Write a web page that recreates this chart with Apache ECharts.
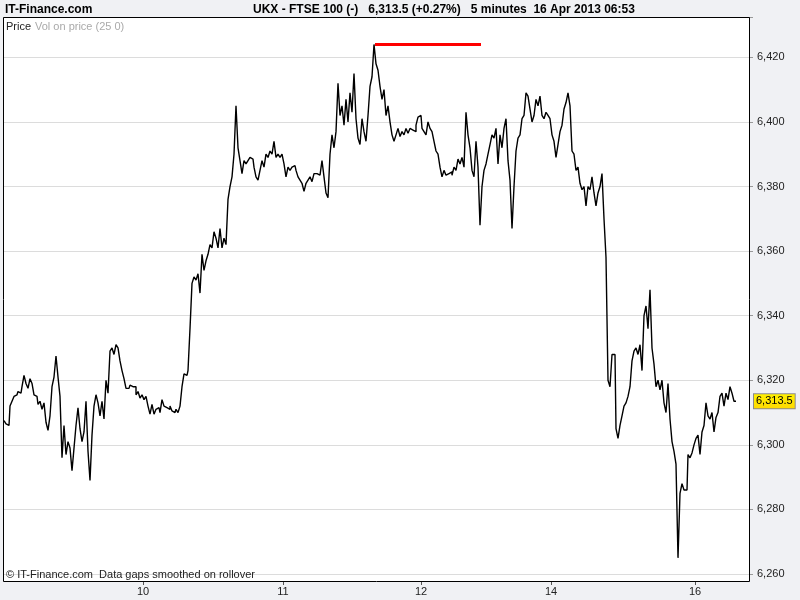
<!DOCTYPE html>
<html>
<head>
<meta charset="utf-8">
<title>UKX - FTSE 100</title>
<script src="https://cdn.jsdelivr.net/npm/echarts@6/dist/echarts.min.js"></script>
<style>
  html, body { margin: 0; padding: 0; background: #f0f1f4; }
  #chart { width: 800px; height: 600px; }
</style>
</head>
<body>
<div id="chart"></div>
<script>
// UKX 5-minute prices (one value per ~2px)
const price = [
  6307.5, 6306.5, 6306, 6312, 6313.5, 6315, 6315.5, 6316.5, 6316, 6318,
  6321.5, 6319, 6317.5, 6320.5, 6319, 6315.5, 6315, 6312.5, 6313.5, 6311,
  6313, 6307, 6304.5, 6309, 6318, 6321, 6327.5, 6321, 6315, 6296,
  6306, 6297, 6301, 6299, 6292, 6299, 6306, 6311.5, 6305, 6301,
  6304, 6313.5, 6298, 6289, 6303, 6312, 6315.5, 6313, 6309, 6313.5,
  6308, 6320, 6316, 6329, 6330, 6328, 6331, 6330, 6326, 6323,
  6320.5, 6317.5, 6317.5,
  6318.5, 6318, 6318, 6315.5, 6316.5, 6314.5, 6315.5, 6314, 6315, 6312,
  6309.5, 6312.5, 6309.5, 6311, 6311.5, 6310, 6314, 6312, 6311.5, 6311,
  6312, 6310.5, 6310, 6311, 6310, 6312, 6318, 6322, 6321.5, 6323,
  6336, 6350, 6352, 6351, 6353, 6347, 6359, 6354, 6357, 6359,
  6362, 6361, 6366, 6364, 6361, 6367, 6361, 6364, 6362, 6376,
  6380, 6383, 6390, 6405, 6392, 6388, 6384, 6388, 6387, 6388,
  6389, 6388.5,
  6386, 6383, 6382, 6385, 6388, 6386, 6390, 6389, 6391, 6390,
  6394, 6389, 6390, 6389, 6390, 6387, 6383, 6386, 6385, 6386,
  6386.5, 6385, 6383, 6382, 6381, 6378.5, 6381, 6382, 6383, 6381.5,
  6384, 6384, 6383.5, 6384, 6388, 6383, 6378, 6376.5, 6390, 6396,
  6392, 6397, 6412, 6402, 6405, 6399, 6407, 6400, 6409, 6403,
  6415, 6401, 6395, 6393, 6401, 6397, 6394, 6402, 6411, 6414,
  6424, 6418, 6416,
  6411, 6407, 6410, 6402, 6405, 6400, 6396, 6394, 6396, 6398,
  6395.5, 6397, 6396, 6398, 6396.5, 6398, 6397.5, 6397, 6399, 6401.5,
  6402, 6398, 6397, 6396, 6400, 6398, 6397, 6394, 6391, 6390,
  6386, 6383, 6385, 6383.5, 6384, 6384.5, 6383.5, 6386, 6385, 6388.5,
  6387, 6389, 6386, 6403, 6396, 6392, 6385, 6383, 6394, 6386,
  6368, 6380, 6385, 6387, 6390, 6393, 6396, 6395, 6398, 6387,
  6396, 6392, 6398, 6401, 6388, 6382, 6367, 6380, 6391, 6395,
  6396, 6401, 6402, 6409, 6408, 6404, 6400, 6402, 6407, 6405,
  6408, 6402, 6401, 6403, 6402, 6401, 6396, 6394, 6389, 6393,
  6397, 6399, 6404, 6406, 6409, 6405, 6391, 6390, 6385, 6386,
  6381, 6379, 6380, 6374, 6380, 6379, 6383, 6378, 6374, 6378,
  6380, 6384, 6370, 6358, 6320, 6318, 6328, 6328, 6305, 6302,
  6306, 6309, 6312, 6313, 6315, 6318, 6326, 6329, 6330, 6328,
  6331, 6323, 6340, 6343, 6336, 6348, 6330, 6325, 6318, 6320,
  6317, 6320, 6313, 6310, 6319, 6308, 6301, 6298, 6294, 6265,
  6285, 6288, 6286, 6286, 6297, 6296, 6297.5, 6300, 6302, 6303,
  6297, 6304, 6306, 6313, 6309, 6308, 6310, 6304, 6308.5, 6310,
  6315, 6316, 6312, 6316, 6314, 6318, 6316, 6313.5
];

// day labels on the x axis and the price index where each one falls
const dayLabels = ['10', '11', '12', '14', '16'];
const dayStart = [69, 139, 208, 273, 345];

const lastPrice = 6313.5;
const highMarkBars = 53; // length of the red session-high marker

const leadSlots = 1;
const trailSlots = 7;

const FONT = '"Liberation Sans", Arial, sans-serif';

function fmt(v, dec) {
  const s = v.toFixed(dec || 0);
  const parts = s.split('.');
  parts[0] = parts[0].replace(/\B(?=(\d{3})+(?!\d))/g, ',');
  return parts.join('.');
}

const total = leadSlots + price.length + trailSlots;
const categories = new Array(total).fill('');
dayStart.forEach((p, i) => { categories[p + leadSlots] = dayLabels[i]; });

const seriesData = new Array(total).fill(null);
price.forEach((v, i) => { seriesData[i + leadSlots] = v; });

let hiIdx = 0;
price.forEach((v, i) => { if (v > price[hiIdx]) hiIdx = i; });
const hiVal = price[hiIdx];
hiIdx += leadSlots;

const showDay = (i) => categories[i] !== '';

const chart = echarts.init(document.getElementById('chart'));
chart.setOption({
  animation: false,
  backgroundColor: '#f0f1f4',
  textStyle: { fontFamily: FONT },
  grid: { left: 3, right: 51, top: 17, bottom: 26 },
  xAxis: {
    type: 'category',
    data: categories,
    boundaryGap: false,
    offset: 7,
    axisLine: { show: false },
    axisTick: { show: true, interval: showDay, length: 4, lineStyle: { color: '#555' } },
    axisLabel: { interval: showDay, color: '#222', fontSize: 11, margin: 5, fontFamily: FONT },
    splitLine: { show: false }
  },
  yAxis: {
    type: 'value',
    position: 'right',
    min: 6260,
    max: 6432.5,
    interval: 20,
    axisLine: { show: false },
    axisTick: { show: true, length: 4, lineStyle: { color: '#999' } },
    axisLabel: {
      margin: 8,
      color: '#222',
      fontSize: 11,
      fontFamily: FONT,
      formatter: (v) => (v % 20 === 0 ? fmt(v) : '')
    },
    splitLine: { lineStyle: { color: '#dcdcdc', width: 1 } }
  },
  graphic: [
    {
      type: 'rect', z: -100, silent: true,
      shape: { x: 3.5, y: 17.5, width: 746, height: 564 },
      style: { fill: '#ffffff' }
    },
    {
      type: 'rect', z: 100, silent: true,
      shape: { x: 3.5, y: 17.5, width: 746, height: 564 },
      style: { fill: null, stroke: '#000', lineWidth: 1 }
    },
    {
      type: 'text', x: 5, y: 10, silent: true,
      style: { text: 'IT-Finance.com', font: 'bold 12px ' + FONT, fill: '#000', verticalAlign: 'middle' }
    },
    {
      type: 'text', x: 253, y: 10, silent: true,
      style: {
        text: 'UKX - FTSE 100 (-)   6,313.5 (+0.27%)   5 minutes  16 Apr 2013 06:53',
        font: 'bold 12px ' + FONT, fill: '#000', verticalAlign: 'middle'
      }
    },
    {
      type: 'text', x: 6, y: 27, z: 101, silent: true,
      style: { text: 'Price', font: '11px ' + FONT, fill: '#222', verticalAlign: 'middle' }
    },
    {
      type: 'text', x: 35, y: 27, z: 101, silent: true,
      style: { text: 'Vol on price (25 0)', font: '11px ' + FONT, fill: '#aaa', verticalAlign: 'middle' }
    },
    {
      type: 'text', x: 6, y: 575, z: 101, silent: true,
      style: {
        text: '\u00a9 IT-Finance.com  Data gaps smoothed on rollover',
        font: '11px ' + FONT, fill: '#222', verticalAlign: 'middle'
      }
    }
  ],
  series: [
    {
      name: 'UKX',
      type: 'line',
      data: seriesData,
      symbol: 'none',
      step: 'middle',
      connectNulls: false,
      lineStyle: { color: '#000', width: 1.4 },
      z: 5,
      markLine: {
        silent: true,
        symbol: ['none', 'none'],
        animation: false,
        data: [
          [
            { coord: [hiIdx, hiVal], lineStyle: { color: '#ff0000', width: 3, type: 'solid' }, label: { show: false } },
            { coord: [hiIdx + highMarkBars, hiVal], lineStyle: { color: '#ff0000', width: 3, type: 'solid' }, label: { show: false } }
          ],
          {
            yAxis: lastPrice,
            lineStyle: { color: 'rgba(0,0,0,0)', width: 1 },
            label: {
              show: true,
              position: 'end',
              distance: 5,
              formatter: fmt(lastPrice, 1),
              color: '#000',
              fontSize: 11,
              fontFamily: FONT,
              backgroundColor: {
                type: 'linear', x: 0, y: 0, x2: 0, y2: 1,
                colorStops: [{ offset: 0, color: '#fff200' }, { offset: 1, color: '#ffd800' }]
              },
              borderColor: '#8a8a8a',
              borderWidth: 1,
              padding: [2, 2, 1, 2]
            }
          }
        ]
      }
    }
  ]
});
</script>
</body>
</html>
